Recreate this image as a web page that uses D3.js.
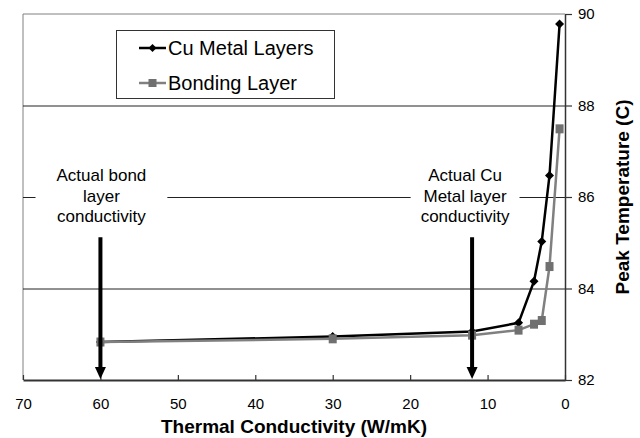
<!DOCTYPE html>
<html>
<head>
<meta charset="utf-8">
<script src="https://cdn.jsdelivr.net/npm/d3@7"></script>
<style>
  body { margin: 0; background: #fff; }
  svg { display: block; font-family: "Liberation Sans", Arial, sans-serif; }
</style>
</head>
<body>
<div id="chart"></div>
<script>
// conductivity values (W/mK) and peak temperatures (C)
const conductivity = [60, 30, 12, 6, 4, 3, 2, 0.7];
const cuMetalTemps = [82.83, 82.95, 83.06, 83.25, 84.16, 85.03, 86.47, 89.78];
const bondingTemps = [82.83, 82.90, 82.98, 83.09, 83.22, 83.30, 84.48, 87.49];
const seriesNames = ["Cu Metal Layers", "Bonding Layer"];
const xTicks = [70, 60, 50, 40, 30, 20, 10, 0];
const yTicks = [82, 84, 86, 88, 90];
const gridValues = [84, 86, 88];

// annotation arrows: x position (W/mK) and text lines
const annotations = [
  { x: 60, lines: ["Actual bond", "layer", "conductivity"] },
  { x: 12, lines: ["Actual Cu", "Metal layer", "conductivity"] }
];

const width = 640, height = 438;
const margin = { top: 14, right: 75, bottom: 58, left: 23 };

const svg = d3.select("#chart").append("svg")
  .attr("width", width)
  .attr("height", height);

const x = d3.scaleLinear().domain([70, 0]).range([margin.left, width - margin.right]);
const y = d3.scaleLinear().domain([82, 90]).range([height - margin.bottom, margin.top]);

// plot frame (top and left, grey)
svg.append("path")
  .attr("d", `M${x(70)},${y(82)}V${y(90)}H${x(0)}`)
  .attr("fill", "none")
  .attr("stroke", "#808080")
  .attr("stroke-width", 1);

// horizontal gridlines
svg.append("g").selectAll("line")
  .data(gridValues)
  .join("line")
  .attr("x1", x(70)).attr("x2", x(0))
  .attr("y1", d => y(d) + 0.5).attr("y2", d => y(d) + 0.5)
  .attr("stroke", "#222")
  .attr("stroke-width", 1);

// annotation text with white backing so the gridline is broken
const annG = svg.append("g");
annotations.forEach(a => {
  const cx = a.x === 60 ? x(a.x) + 1 : x(a.x) - 7;
  const g = annG.append("g");
  const texts = g.selectAll("text")
    .data(a.lines)
    .join("text")
    .attr("x", cx)
    .attr("y", (d, i) => 181 + i * 20.5)
    .attr("text-anchor", "middle")
    .attr("font-size", 17)
    .attr("fill", "#000")
    .text(d => d);
  let w = 0;
  texts.each(function() { w = Math.max(w, this.getComputedTextLength()); });
  const pad = a.x === 60 ? 21 : 10;
  g.insert("rect", "text")
    .attr("x", cx - w / 2 - pad)
    .attr("y", 160)
    .attr("width", w + pad * 2)
    .attr("height", 64)
    .attr("fill", "#fff");
});

// x axis (bottom), ticks pointing inward
const xAxis = svg.append("g")
  .attr("transform", `translate(0,${y(82)})`)
  .call(d3.axisBottom(x).tickValues(xTicks).tickSizeInner(-5).tickSizeOuter(0).tickPadding(18));
xAxis.select(".domain").attr("stroke", "#333").attr("stroke-width", 2);
xAxis.selectAll(".tick line").attr("stroke", "#333").attr("stroke-width", 1.2);
xAxis.selectAll(".tick text")
  .attr("font-size", 15)
  .attr("font-family", "Liberation Sans, Arial, sans-serif")
  .attr("fill", "#000");

// y axis (right), ticks outward
const yAxis = svg.append("g")
  .attr("transform", `translate(${x(0)},0)`)
  .call(d3.axisRight(y).tickValues(yTicks).tickSizeInner(7).tickSizeOuter(0).tickPadding(6));
yAxis.select(".domain").attr("stroke", "#333").attr("stroke-width", 1.5);
yAxis.selectAll(".tick line").attr("stroke", "#333").attr("stroke-width", 1.2);
yAxis.selectAll(".tick text")
  .attr("font-size", 15)
  .attr("font-family", "Liberation Sans, Arial, sans-serif")
  .attr("fill", "#000");

// axis titles
svg.append("text")
  .attr("x", (x(70) + x(0)) / 2)
  .attr("y", 433)
  .attr("text-anchor", "middle")
  .attr("font-size", 19)
  .attr("font-weight", "bold")
  .text("Thermal Conductivity (W/mK)");

svg.append("text")
  .attr("transform", `translate(629,${(y(82) + y(90)) / 2}) rotate(-90)`)
  .attr("text-anchor", "middle")
  .attr("font-size", 19)
  .attr("font-weight", "bold")
  .text("Peak Temperature (C)");

// arrows
const arrowG = svg.append("g");
annotations.forEach(a => {
  const ax = x(a.x);
  arrowG.append("line")
    .attr("x1", ax).attr("x2", ax)
    .attr("y1", y(85.12)).attr("y2", y(82) - 10)
    .attr("stroke", "#000")
    .attr("stroke-width", 4);
  arrowG.append("path")
    .attr("d", `M${ax - 5.5},${y(82) - 13}L${ax + 5.5},${y(82) - 13}L${ax},${y(82) - 1}Z`)
    .attr("fill", "#000");
});

// series lines
const line = d3.line()
  .x((d, i) => x(conductivity[i]))
  .y(d => y(d));

const diamond = s => `M0,${-s}L${s},0L0,${s}L${-s},0Z`;

svg.append("path")
  .datum(cuMetalTemps)
  .attr("d", line)
  .attr("fill", "none")
  .attr("stroke", "#000")
  .attr("stroke-width", 2.5);

svg.append("g").selectAll("path")
  .data(cuMetalTemps)
  .join("path")
  .attr("d", diamond(4.5))
  .attr("transform", (d, i) => `translate(${x(conductivity[i])},${y(d)})`)
  .attr("fill", "#000");

svg.append("path")
  .datum(bondingTemps)
  .attr("d", line)
  .attr("fill", "none")
  .attr("stroke", "#808080")
  .attr("stroke-width", 2.5);

svg.append("g").selectAll("rect")
  .data(bondingTemps)
  .join("rect")
  .attr("x", (d, i) => x(conductivity[i]) - 4)
  .attr("y", d => y(d) - 4.5)
  .attr("width", 8)
  .attr("height", 9)
  .attr("fill", "#707070");

// arrows sit on top of the series
arrowG.raise();

// legend
const legend = svg.append("g");
legend.append("rect")
  .attr("x", 116.5).attr("y", 30.5)
  .attr("width", 218).attr("height", 68)
  .attr("fill", "#fff")
  .attr("stroke", "#333")
  .attr("stroke-width", 1);

const legendItems = [
  { name: seriesNames[0], color: "#000", marker: "diamond", cy: 48 },
  { name: seriesNames[1], color: "#808080", marker: "square", cy: 83 }
];
legendItems.forEach(it => {
  legend.append("line")
    .attr("x1", 139).attr("x2", 166)
    .attr("y1", it.cy).attr("y2", it.cy)
    .attr("stroke", it.color)
    .attr("stroke-width", 2.5);
  if (it.marker === "diamond") {
    legend.append("path")
      .attr("d", diamond(4))
      .attr("transform", `translate(152.5,${it.cy})`)
      .attr("fill", "#000");
  } else {
    legend.append("rect")
      .attr("x", 148.5).attr("y", it.cy - 4)
      .attr("width", 8).attr("height", 8)
      .attr("fill", "#707070");
  }
  legend.append("text")
    .attr("x", 168)
    .attr("y", it.cy)
    .attr("dy", "0.36em")
    .attr("font-size", 20)
    .attr("fill", "#000")
    .text(it.name);
});
</script>
</body>
</html>
